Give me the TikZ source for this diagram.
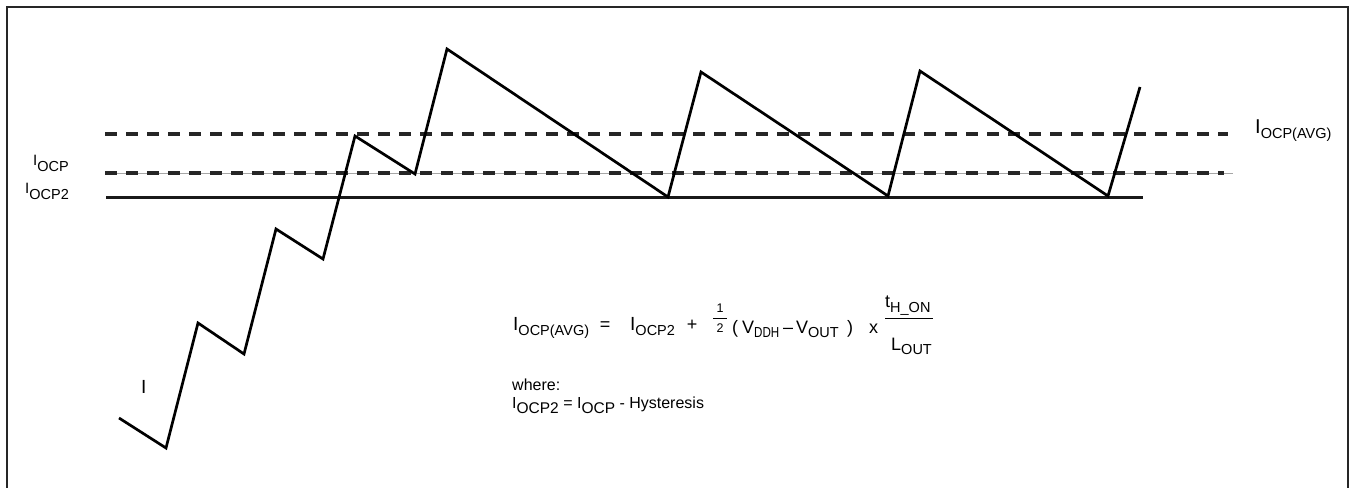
\documentclass[tikz,border=0pt]{standalone}
\usepackage{fontspec}
\setmainfont{Liberation Sans}
\newcommand{\lowsub}[3]{\raisebox{-#1}{\fontsize{#2}{#2}\selectfont #3}}
\begin{document}
\begin{tikzpicture}[x=1pt,y=-1pt,
  txt/.style={inner sep=0pt, anchor=base west},
  ctxt/.style={inner sep=0pt, anchor=base},
  wave/.style={line width=2.7pt, line join=miter, line cap=butt},
  dashA/.style={line width=4pt, dash pattern=on 12pt off 9pt, black!85},
  dashB/.style={line width=3.5pt, dash pattern=on 12pt off 9pt, black!85},
  solidline/.style={line width=3pt, black!90},
  frame/.style={line width=2pt, black!85},
  fbar/.style={line width=0.9pt}]
\useasboundingbox (0,0) rectangle (1351,487);
% frame
\coordinate (fbl) at (7,492);
\coordinate (ftl) at (7,7);
\coordinate (ftr) at (1348,7);
\coordinate (fbr) at (1348,492);
\draw[frame] (fbl) -- (ftl) -- (ftr) -- (fbr);
% reference lines
\coordinate (a1) at (105,134); \coordinate (a2) at (1228,134);
\coordinate (b1) at (105,173); \coordinate (b2) at (1224,173);
\coordinate (g1) at (105,173); \coordinate (g2) at (1233,173);
\coordinate (c1) at (106,197); \coordinate (c2) at (1143,197);
\draw[line width=0.6pt, black!35] (g1) -- (g2);
\draw[dashA] (a1) -- (a2);
\draw[dashB] (b1) -- (b2);
\draw[solidline] (c1) -- (c2);
% waveform
\coordinate (w0) at (119,418);
\coordinate (w1) at (166,448);
\coordinate (w2) at (198,323);
\coordinate (w3) at (244,354);
\coordinate (w4) at (276,229);
\coordinate (w5) at (323,259);
\coordinate (w6) at (355,136);
\coordinate (w7) at (415,174);
\coordinate (w8) at (447,49);
\coordinate (w9) at (668,197);
\coordinate (w10) at (701,72);
\coordinate (w11) at (888,196);
\coordinate (w12) at (920,71);
\coordinate (w13) at (1108,196);
\coordinate (w14) at (1140,87);
\draw[wave] (w0) -- (w1) -- (w2) -- (w3) -- (w4) -- (w5) -- (w6) -- (w7) -- (w8) -- (w9) -- (w10) -- (w11) -- (w12) -- (w13) -- (w14);
% line labels
\node[txt, font=\fontsize{15}{15}\selectfont] (locp) at (33,165) {I\lowsub{6pt}{14.5}{OCP}};
\node[txt, font=\fontsize{15}{15}\selectfont] (locp2) at (25,193) {I\lowsub{6pt}{14.5}{OCP2}};
\node[txt, font=\fontsize{20}{20}\selectfont] (lavg) at (1255,133) {I\lowsub{5pt}{14.5}{OCP(AVG)}};
\node[txt, font=\fontsize{19}{19}\selectfont] (lI) at (141,393) {I};
% formula
\node[txt, font=\fontsize{19}{19}\selectfont] (f1) at (513,330) {I\lowsub{5pt}{14.5}{OCP(AVG)}};
\node[ctxt, font=\fontsize{18}{18}\selectfont] (feq) at (605,330) {=};
\node[txt, font=\fontsize{19}{19}\selectfont] (f2) at (630,330) {I\lowsub{5pt}{14.5}{OCP2}};
\node[ctxt, font=\fontsize{18}{18}\selectfont] (fplus) at (692,330) {+};
\node[ctxt, font=\fontsize{12.5}{12.5}\selectfont] (fone) at (720,312) {1};
\node[ctxt, font=\fontsize{12.5}{12.5}\selectfont] (ftwo) at (720,332) {2};
\coordinate (h1) at (713,318); \coordinate (h2) at (727,318);
\draw[fbar] (h1) -- (h2);
\node[txt, font=\fontsize{18}{18}\selectfont] (flp) at (732,333) {(};
\node[txt, font=\fontsize{18}{18}\selectfont] (fv1) at (742,333) {V\lowsub{4pt}{14.5}{\scalebox{0.8}[1]{DDH}}};
\node[txt, font=\fontsize{18}{18}\selectfont] (fmin) at (783,333) {\char"2013};
\node[txt, font=\fontsize{18}{18}\selectfont] (fv2) at (796,333) {V\lowsub{4pt}{14.5}{OUT}};
\node[txt, font=\fontsize{18}{18}\selectfont] (frp) at (847,333) {)};
\node[txt, font=\fontsize{18}{18}\selectfont] (fx) at (869,333) {x};
\node[txt, font=\fontsize{18}{18}\selectfont] (fnum) at (885,307) {t\lowsub{5pt}{14.5}{H\_ON}};
\coordinate (k1) at (885,318); \coordinate (k2) at (933,318);
\draw[fbar] (k1) -- (k2);
\node[txt, font=\fontsize{18}{18}\selectfont] (fden) at (891,350) {L\lowsub{4pt}{14.5}{OUT}};
% where
\node[txt, font=\fontsize{16}{16}\selectfont] (where) at (512,390) {where:};
\node[txt, font=\fontsize{16}{16}\selectfont] (hyst) at (512,408) {I\lowsub{5pt}{15.5}{OCP2} = I\lowsub{5pt}{15.5}{OCP} - Hysteresis};
\end{tikzpicture}
\end{document}
